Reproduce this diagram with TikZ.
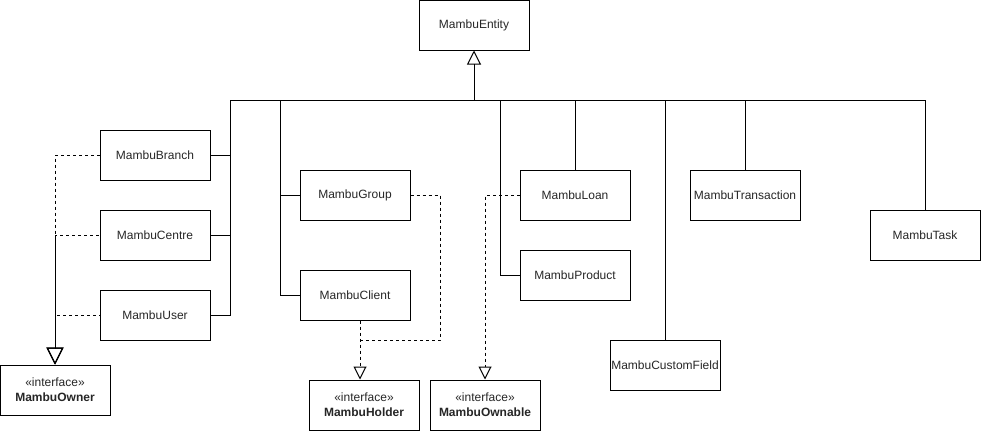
\documentclass[tikz,border=0pt]{standalone}
\usepackage{fontspec}
\setmainfont{Liberation Sans}
\usetikzlibrary{arrows.meta}
\begin{document}
\begin{tikzpicture}[x=1pt,y=-1pt,
  cls/.style={draw, line width=1pt, minimum width=110pt, minimum height=50pt, inner sep=0pt,
    font=\fontsize{12}{15}\selectfont, text=black!85, align=center},
  conn/.style={line width=1pt},
  dconn/.style={line width=1pt, dash pattern=on 3pt off 3pt},
  gen/.style={-{Triangle[open, length=14pt, width=14pt, line width=1pt]}},
  genbig/.style={-{Triangle[open, length=17pt, width=17pt, line width=1pt]}},
  gensm/.style={-{Triangle[open, length=13pt, width=13pt, line width=1pt]}}]
\useasboundingbox (0,0) rectangle (981,431);
\node[cls] (entity) at (474,25) {MambuEntity};
\node[cls] (branch) at (155,155) {MambuBranch};
\node[cls] (centre) at (155,235) {MambuCentre};
\node[cls] (user) at (155,315) {MambuUser};
\node[cls] (owner) at (55,390) {«interface»\\\textbf{MambuOwner}};
\node[cls] (group) at (355,195) {MambuGroup};
\node[cls] (client) at (355,295) {MambuClient};
\node[cls] (holder) at (364,405) {«interface»\\\textbf{MambuHolder}};
\node[cls] (loan) at (575,195) {MambuLoan};
\node[cls] (product) at (575,275) {MambuProduct};
\node[cls] (ownable) at (485,405) {«interface»\\\textbf{MambuOwnable}};
\node[cls] (transaction) at (745,195) {MambuTransaction};
\node[cls] (custom) at (665,365) {MambuCustomField};
\node[cls] (task) at (925,235) {MambuTask};
% bus
\coordinate (busL) at (230,100);
\coordinate (busR) at (925,100);
\coordinate (bus280) at (280,100);
\coordinate (bus500) at (500,100);
\draw[conn] (busL) -- (busR);
\draw[conn,gen] (entity.south |- busL) -- (entity.south);
\draw[conn] (branch.east) -| (busL);
\draw[conn] (centre.east) -| (busL);
\draw[conn] (user.east) -| (busL);
\draw[conn] (group.west) -| (bus280);
\draw[conn] (client.west) -| (bus280);
\draw[conn] (product.west) -| (bus500);
\draw[conn] (loan.north) -- (loan.north |- busL);
\draw[conn] (transaction.north) -- (transaction.north |- busL);
\draw[conn] (custom.north) -- (custom.north |- busL);
\draw[conn] (task.north) -- (task.north |- busL);
% realizations
\draw[dconn,genbig] (branch.west) -| (owner.north);
\draw[dconn,genbig,dash phase=5pt] (centre.west) -| (owner.north);
\draw[dconn,genbig,dash phase=2pt] (user.west) -| (owner.north);
\coordinate (hx) at (360,340);
\coordinate (gx) at (440,340);
\draw[dconn,gensm] (client.south -| hx) -- (hx |- holder.north);
\draw[dconn] (group.east) -| (gx) -- (hx);
\draw[dconn,gensm] (loan.west) -| (ownable.north);
\end{tikzpicture}
\end{document}
